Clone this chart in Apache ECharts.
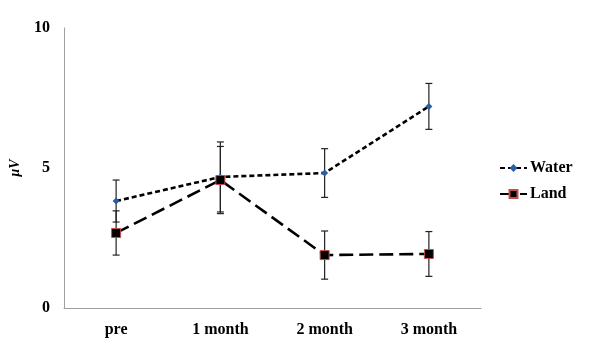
<!DOCTYPE html>
<html>
<head>
<meta charset="utf-8">
<script src="https://cdn.jsdelivr.net/npm/echarts@6/dist/echarts.min.js"></script>
<style>
  html, body { margin: 0; padding: 0; background: #fff; }
  #chart { width: 600px; height: 346px; }
</style>
</head>
<body>
<div id="chart"></div>
<script>
// Time points and group measurements (mean ± error, in μV)
const categories = ['pre', '1 month', '2 month', '3 month'];
const waterMean = [3.82, 4.68, 4.82, 7.2];
const waterErr = [0.75, 1.25, 0.87, 0.82];
const landMean = [2.68, 4.57, 1.89, 1.93];
const landErr = [0.79, 1.2, 0.86, 0.8];
const yTicks = [0, 5, 10];

const FONT = '"Liberation Serif", "Times New Roman", serif';

// Vertical error bar with small caps at each end
function errorBarSeries(means, errs) {
  const data = means.map((m, i) => [i, m - errs[i], m + errs[i]]);
  return {
    type: 'custom',
    silent: true,
    z: 1,
    renderItem: function (params, api) {
      const x = api.value(0);
      const lo = api.coord([x, api.value(1)]);
      const hi = api.coord([x, api.value(2)]);
      const cap = 3.5;
      const style = { stroke: '#222', lineWidth: 1.2 };
      return {
        type: 'group',
        children: [
          { type: 'line', shape: { x1: lo[0], y1: lo[1], x2: hi[0], y2: hi[1] }, style: style },
          { type: 'line', shape: { x1: lo[0] - cap, y1: lo[1], x2: lo[0] + cap, y2: lo[1] }, style: style },
          { type: 'line', shape: { x1: hi[0] - cap, y1: hi[1], x2: hi[0] + cap, y2: hi[1] }, style: style }
        ]
      };
    },
    data: data
  };
}

const chart = echarts.init(document.getElementById('chart'), null, { renderer: 'canvas' });

chart.setOption({
  animation: false,
  backgroundColor: '#fff',
  grid: { left: 61, right: 119, top: 28, bottom: 38, containLabel: false },
  legend: {
    orient: 'vertical',
    left: 494,
    top: 155,
    itemWidth: 27,
    itemHeight: 10,
    itemGap: 10,
    textStyle: { fontFamily: FONT, fontWeight: 'bold', fontSize: 16, color: '#000', padding: [0, 0, 0, -2] },
    data: ['Water', 'Land']
  },
  xAxis: {
    type: 'category',
    data: categories,
    boundaryGap: true,
    axisLine: { lineStyle: { color: '#a0a0a0', width: 1 } },
    axisTick: { show: false },
    axisLabel: { fontFamily: FONT, fontWeight: 'bold', fontSize: 16, color: '#000', margin: 14 },
    splitLine: { show: false }
  },
  yAxis: {
    type: 'value',
    min: yTicks[0],
    max: yTicks[yTicks.length - 1],
    interval: yTicks[1] - yTicks[0],
    name: 'μV',
    nameLocation: 'middle',
    nameGap: 42,
    nameRotate: 90,
    nameTextStyle: { fontFamily: FONT, fontWeight: 'bold', fontStyle: 'italic', fontSize: 14, color: '#000' },
    axisLine: { show: true, lineStyle: { color: '#a0a0a0', width: 1 } },
    axisTick: { show: false },
    axisLabel: { fontFamily: FONT, fontWeight: 'bold', fontSize: 16, color: '#000', margin: 14 },
    splitLine: { show: false }
  },
  series: [
    errorBarSeries(waterMean, waterErr),
    errorBarSeries(landMean, landErr),
    {
      name: 'Water',
      type: 'line',
      z: 3,
      data: waterMean,
      symbol: 'diamond',
      symbolSize: 7,
      itemStyle: { color: '#2a5ca8', borderColor: '#2a5ca8', borderWidth: 0 },
      lineStyle: { color: '#000', width: 2.6, type: [5, 3] }
    },
    {
      name: 'Land',
      type: 'line',
      z: 3,
      data: landMean,
      symbol: 'rect',
      symbolSize: 9,
      itemStyle: { color: '#000', borderColor: '#c0504d', borderWidth: 1 },
      lineStyle: { color: '#000', width: 2.6, type: [14, 6] }
    }
  ]
});
</script>
</body>
</html>
